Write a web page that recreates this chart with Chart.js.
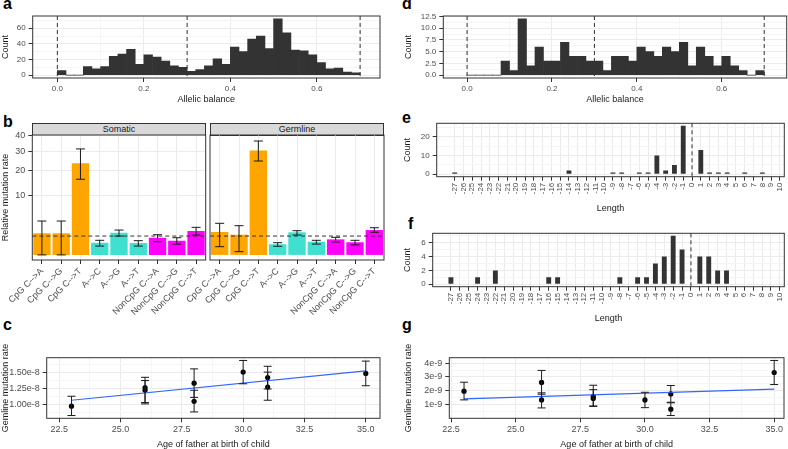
<!DOCTYPE html>
<html>
<head>
<meta charset="utf-8">
<script src="https://cdn.jsdelivr.net/npm/chart.js@4.4.1/dist/chart.umd.min.js"></script>
<style>
  body { margin: 0; width: 788px; height: 449px; position: relative; overflow: hidden; background: #fff;
         font-family: "Liberation Sans", Arial, Helvetica, sans-serif; }
  canvas { position: absolute; }
  .tag { position: absolute; font-weight: bold; font-size: 16px; line-height: 16px; color: #000; }
  .strip { position: absolute; height: 13px; width: 174px; background: #d9d9d9; border: 1px solid #333;
           box-sizing: border-box; font-size: 9px; line-height: 11px; text-align: center; color: #1a1a1a; }
</style>
</head>
<body>
<div class="tag" style="left:3px;top:-4px">a</div>
<div class="tag" style="left:3px;top:114px">b</div>
<div class="tag" style="left:3px;top:317px">c</div>
<div class="tag" style="left:402px;top:-4px">d</div>
<div class="tag" style="left:402px;top:110px">e</div>
<div class="tag" style="left:408px;top:216px">f</div>
<div class="tag" style="left:402px;top:317px">g</div>
<div class="strip" style="left:32px;top:123px">Somatic</div>
<div class="strip" style="left:210px;top:123px">Germline</div>

<canvas id="chartA" width="390" height="105" style="left:0;top:0"></canvas>
<canvas id="chartD" width="398" height="105" style="left:390px;top:0"></canvas>
<canvas id="chartB1" width="210" height="197" style="left:0;top:125px"></canvas>
<canvas id="chartB2" width="210" height="197" style="left:180px;top:125px"></canvas>
<canvas id="chartE" width="398" height="100" style="left:390px;top:114px"></canvas>
<canvas id="chartF" width="398" height="100" style="left:390px;top:224px"></canvas>
<canvas id="chartC" width="390" height="120" style="left:0;top:330px"></canvas>
<canvas id="chartG" width="398" height="120" style="left:390px;top:330px"></canvas>

<script>
// allelic balance histograms (bins of 0.02)
const binMids = [0.01, 0.03, 0.05, 0.07, 0.09, 0.11, 0.13, 0.15, 0.17, 0.19, 0.21, 0.23, 0.25, 0.27, 0.29,
                 0.31, 0.33, 0.35, 0.37, 0.39, 0.41, 0.43, 0.45, 0.47, 0.49, 0.51, 0.53, 0.55, 0.57, 0.59,
                 0.61, 0.63, 0.65, 0.67, 0.69];
const somaticCounts = [6, 0, 0, 11, 8, 11, 24, 27, 33, 14, 26, 23, 18, 12, 10, 5, 7, 12, 21, 14,
                       36, 30, 46, 50, 34, 72, 54, 32, 31, 26, 16, 8, 9, 4, 3];
const germlineCounts = [0, 0, 0, 0, 3, 1, 12, 2, 6, 3, 3, 7, 4, 4, 3, 3, 1, 4, 4, 3,
                        6, 5, 4, 6, 5, 7, 2, 6, 4, 2, 4, 2, 1, 0, 1];
const cutoffs = [0, 0.3, 0.7];

// relative mutation rate by type
const mutTypes = ['CpG C-->A', 'CpG C-->G', 'CpG C-->T', 'A-->C', 'A-->G', 'A-->T',
                  'NonCpG C-->A', 'NonCpG C-->G', 'NonCpG C-->T'];
const typeColors = ['#FFA500', '#FFA500', '#FFA500', '#40E0D0', '#40E0D0', '#40E0D0', '#FF00FF', '#FF00FF', '#FF00FF'];
const somaticRate = [1.31, 1.31, 23.6, 0.42, 1.39, 0.40, 0.83, 0.57, 1.61];
const somaticLow  = [0, 0, 16.1, 0.22, 1.0, 0.22, 0.49, 0.33, 1.11];
const somaticHigh = [3.23, 3.23, 31.6, 0.60, 1.74, 0.57, 1.15, 0.83, 2.14];
const germRate = [1.48, 1.15, 30.6, 0.32, 1.44, 0.49, 0.68, 0.45, 1.74];
const germLow  = [0.19, 0.03, 24.8, 0.21, 1.11, 0.33, 0.47, 0.28, 1.44];
const germHigh = [2.81, 2.40, 36.5, 0.42, 1.65, 0.60, 0.87, 0.60, 2.08];
const rateTicks = [10, 20, 30, 40];

// indel lengths
const lengths = [-27, -26, -25, -24, -23, -22, -21, -20, -19, -18, -17, -16, -15, -14, -13, -12, -11, -10, -9,
                 -8, -7, -6, -5, -4, -3, -2, -1, 0, 1, 2, 3, 4, 5, 6, 7, 8, 9, 10];
const somaticIndels  = [1, 0, 0, 0, 0, 0, 0, 0, 0, 0, 0, 0, 0, 2, 0, 0, 0, 0, 1,
                        1, 0, 1, 1, 10, 2, 5, 26, 0, 13, 1, 1, 1, 0, 1, 0, 1, 0, 0];
const germlineIndels = [1, 0, 0, 1, 0, 2, 0, 0, 0, 0, 0, 1, 1, 0, 0, 0, 0, 0, 0,
                        1, 0, 1, 1, 3, 4, 7, 5, 0, 4, 4, 2, 2, 0, 0, 0, 0, 0, 0];

// rate vs paternal age
const cAge  = [23, 26, 26, 28, 28, 30, 31, 31, 35];
const cRate = [0.974e-8, 1.26e-8, 1.22e-8, 1.33e-8, 1.05e-8, 1.50e-8, 1.417e-8, 1.27e-8, 1.48e-8];
const cLow  = [0.83e-8, 1.03e-8, 1.01e-8, 1.11e-8, 0.886e-8, 1.32e-8, 1.24e-8, 1.066e-8, 1.29e-8];
const cHigh = [1.128e-8, 1.42e-8, 1.37e-8, 1.55e-8, 1.22e-8, 1.68e-8, 1.59e-8, 1.50e-8, 1.67e-8];
const cFitAge  = [23, 35];
const cFitRate = [1.066e-8, 1.52e-8];

const gAge  = [23, 26, 26, 28, 28, 30, 31, 31, 35];
const gRate = [1.97e-9, 2.6e-9, 1.34e-9, 1.6e-9, 1.45e-9, 1.34e-9, 1.77e-9, 0.67e-9, 3.32e-9];
const gLow  = [1.34e-9, 1.75e-9, 0.76e-9, 0.9e-9, 0.87e-9, 0.78e-9, 1.17e-9, 0.21e-9, 2.45e-9];
const gHigh = [2.62e-9, 3.47e-9, 1.85e-9, 2.4e-9, 2.08e-9, 1.89e-9, 2.38e-9, 1.13e-9, 4.19e-9];
const gFitAge  = [23, 35];
const gFitRate = [1.42e-9, 2.12e-9];

Chart.defaults.font.family = '"Liberation Sans", Arial, Helvetica, sans-serif';
Chart.defaults.font.size = 8;
Chart.defaults.color = '#4d4d4d';
Chart.defaults.animation = false;
Chart.defaults.plugins.legend.display = false;
Chart.defaults.plugins.tooltip.enabled = false;

const INK = '#333333', BAR = '#333333', FIT = '#3366FF';

// panel border
const frame = {
  id: 'frame',
  afterDraw(chart) {
    const { ctx, chartArea: a } = chart;
    ctx.save();
    ctx.strokeStyle = INK;
    ctx.lineWidth = 1;
    ctx.strokeRect(a.left, a.top, a.right - a.left, a.bottom - a.top);
    ctx.restore();
  }
};

// dashed reference lines
const refLines = {
  id: 'refLines',
  afterDatasetsDraw(chart, args, o) {
    const { ctx, chartArea: a, scales } = chart;
    ctx.save();
    ctx.strokeStyle = INK;
    ctx.lineWidth = 1;
    ctx.setLineDash([4, 3]);
    (o.x || []).forEach(v => {
      const p = scales.x.getPixelForValue(v);
      ctx.beginPath(); ctx.moveTo(p, a.top); ctx.lineTo(p, a.bottom); ctx.stroke();
    });
    (o.y || []).forEach(v => {
      const p = scales.y.getPixelForValue(v);
      ctx.beginPath(); ctx.moveTo(a.left, p); ctx.lineTo(a.right, p); ctx.stroke();
    });
    ctx.restore();
  }
};

// error bars
const errBars = {
  id: 'errBars',
  afterDatasetsDraw(chart, args, o) {
    if (!o.xs) return;
    const { ctx, scales: { x, y } } = chart;
    const tf = v => o.sqrt ? Math.sqrt(v) : v;
    ctx.save();
    ctx.strokeStyle = '#1a1a1a';
    ctx.lineWidth = 1;
    o.xs.forEach((xv, i) => {
      const px = x.getPixelForValue(xv);
      const y1 = y.getPixelForValue(tf(o.lo[i]));
      const y2 = y.getPixelForValue(tf(o.hi[i]));
      ctx.beginPath();
      ctx.moveTo(px, y1); ctx.lineTo(px, y2);
      ctx.moveTo(px - o.cap, y1); ctx.lineTo(px + o.cap, y1);
      ctx.moveTo(px - o.cap, y2); ctx.lineTo(px + o.cap, y2);
      ctx.stroke();
    });
    ctx.restore();
  }
};

function mk(major, minor) {
  return major.map(v => ({ value: v })).concat((minor || []).map(v => ({ value: v, minor: true })))
    .sort((a, b) => a.value - b.value);
}

function gridStyle() {
  return {
    color: c => (c.tick && c.tick.minor) ? '#f5f5f5' : '#ebebeb',
    tickColor: c => (c.tick && c.tick.minor) ? 'rgba(0,0,0,0)' : INK,
    tickLength: 4,
    offset: false
  };
}

function tickOpts(o, pad) {
  const t = { font: { size: o.size || 8 }, color: '#4d4d4d', padding: pad, autoSkip: false,
              maxRotation: o.rot || 0, minRotation: o.rot || 0 };
  if (o.fmt) t.callback = (v, i, ticks) => ticks[i].minor ? '' : o.fmt(v);
  return t;
}

function titleOpts(text) {
  return { display: !!text, text: text || '', font: { size: 9 }, color: '#1a1a1a', padding: 0 };
}

function xAxis(o) {
  const s = {
    type: o.type || 'linear',
    offset: o.type === 'category',
    afterFit: sc => { sc.height = o.height; sc.paddingLeft = 0; sc.paddingRight = 0; },
    grid: gridStyle(),
    border: { display: false },
    ticks: tickOpts(o, 2),
    title: titleOpts(o.title)
  };
  if (o.min !== undefined) { s.min = o.min; s.max = o.max; }
  if (o.ticks) s.afterBuildTicks = sc => { sc.ticks = o.ticks; };
  return s;
}

function yAxis(o) {
  const shown = o.display !== false;
  return {
    display: shown,
    min: o.min, max: o.max,
    afterBuildTicks: sc => { sc.ticks = o.ticks; },
    afterFit: sc => { sc.width = shown ? o.width : 0; sc.paddingTop = 0; sc.paddingBottom = 0; },
    grid: gridStyle(),
    border: { display: false },
    ticks: tickOpts(o, 3),
    title: titleOpts(o.title)
  };
}

function histChart(id, counts, pad, yW, yOpts) {
  return new Chart(document.getElementById(id), {
    type: 'bar',
    data: { datasets: [{ data: binMids.map((m, i) => ({ x: m, y: counts[i] })),
                         backgroundColor: BAR, barPercentage: 1, categoryPercentage: 1 }] },
    options: {
      responsive: false,
      layout: { padding: pad },
      scales: {
        x: xAxis({ min: yOpts.xmin, max: yOpts.xmax, ticks: mk([0, 0.2, 0.4, 0.6], [0.1, 0.3, 0.5, 0.7]),
                   fmt: v => v.toFixed(1), height: 27, title: 'Allelic balance' }),
        y: yAxis({ min: yOpts.min, max: yOpts.max, ticks: yOpts.ticks, fmt: yOpts.fmt, width: yW, title: 'Count' })
      },
      plugins: { refLines: { x: cutoffs } }
    },
    plugins: [refLines, frame]
  });
}

histChart('chartA', somaticCounts, { left: 0, top: 16, right: 10, bottom: 0 }, 32.7,
  { xmin: -0.057, xmax: 0.746, min: -3.6, max: 75.6, ticks: mk([0, 20, 40, 60], [10, 30, 50, 70]), fmt: v => String(v) });
histChart('chartD', germlineCounts, { left: 13.6, top: 16, right: 1.3, bottom: 0 }, 39.7,
  { xmin: -0.056, xmax: 0.753, min: -0.6, max: 12.6,
    ticks: mk([0, 2.5, 5, 7.5, 10, 12.5], [1.25, 3.75, 6.25, 8.75, 11.25]), fmt: v => v.toFixed(1) });

function mutChart(id, rate, lo, hi, showY, pad) {
  return new Chart(document.getElementById(id), {
    type: 'bar',
    data: {
      labels: mutTypes,
      datasets: [{ data: rate.map(v => Math.sqrt(v)), backgroundColor: typeColors,
                   barPercentage: 0.9, categoryPercentage: 1 }]
    },
    options: {
      responsive: false,
      layout: { padding: pad },
      scales: {
        x: xAxis({ type: 'category', height: 62, rot: 45, size: 9 }),
        y: yAxis({ display: showY, min: -0.27, max: 6.36, ticks: rateTicks.map(v => ({ value: Math.sqrt(v) })),
                   fmt: v => String(Math.round(v * v)), width: 32.3, size: 9,
                   title: 'Relative mutation rate' })
      },
      plugins: {
        refLines: { y: [1] },
        errBars: { xs: mutTypes.map((t, i) => i), lo: lo, hi: hi, cap: 4.5, sqrt: true }
      }
    },
    plugins: [refLines, errBars, frame]
  });
}

mutChart('chartB1', somaticRate, somaticLow, somaticHigh, true, { left: 0, top: 10, right: 4.3, bottom: 0 });
mutChart('chartB2', germRate, germLow, germHigh, false, { left: 30, top: 10, right: 6, bottom: 0 });

function indelChart(id, counts, pad, yW, yOpts) {
  return new Chart(document.getElementById(id), {
    type: 'bar',
    data: { datasets: [{ data: lengths.map((l, i) => ({ x: l, y: counts[i] })),
                         backgroundColor: BAR, barPercentage: 0.55, categoryPercentage: 1 }] },
    options: {
      responsive: false,
      layout: { padding: pad },
      scales: {
        x: xAxis({ min: -29.05, max: 10.5, ticks: mk(lengths), fmt: v => String(v),
                   height: 37.3, rot: 90, title: 'Length' }),
        y: yAxis({ min: yOpts.min, max: yOpts.max, ticks: yOpts.ticks, fmt: v => String(v), width: yW, title: 'Count' })
      },
      plugins: { refLines: { x: [0] } }
    },
    plugins: [refLines, frame]
  });
}

indelChart('chartE', somaticIndels, { left: 12.6, top: 9.3, right: 3.7, bottom: 0 }, 34.1,
  { min: -1.3, max: 27.3, ticks: mk([0, 10, 20], [5, 15, 25]) });
indelChart('chartF', germlineIndels, { left: 12.6, top: 9.3, right: 3.7, bottom: 0 }, 30.1,
  { min: -0.35, max: 7.35, ticks: mk([0, 2, 4, 6], [1, 3, 5, 7]) });

function ageChart(id, age, rate, lo, hi, fitAge, fitRate, pad, yW, o) {
  return new Chart(document.getElementById(id), {
    type: 'scatter',
    data: {
      datasets: [
        { type: 'line', data: fitAge.map((a, i) => ({ x: a, y: fitRate[i] })), borderColor: FIT,
          borderWidth: 1.2, pointRadius: 0, fill: false },
        { data: age.map((a, i) => ({ x: a, y: rate[i] })), pointRadius: 2.6,
          backgroundColor: '#000', borderWidth: 0 }
      ]
    },
    options: {
      responsive: false,
      layout: { padding: pad },
      scales: {
        x: xAxis({ min: o.xmin, max: o.xmax, ticks: mk([22.5, 25, 27.5, 30, 32.5, 35], [23.75, 26.25, 28.75, 31.25, 33.75]),
                   fmt: v => v.toFixed(1), height: 31.7, size: 9, title: 'Age of father at birth of child' }),
        y: yAxis({ min: o.min, max: o.max, ticks: o.ticks, fmt: o.fmt, width: yW, size: 9,
                   title: 'Gemline mutation rate' })
      },
      plugins: { errBars: { xs: age, lo: lo, hi: hi, cap: 4 } }
    },
    plugins: [errBars, frame]
  });
}

ageChart('chartC', cAge, cRate, cLow, cHigh, cFitAge, cFitRate, { left: 0, top: 27.7, right: 10, bottom: 0 }, 46.7,
  { xmin: 21.99, xmax: 35.58, min: 0.7875e-8, max: 1.7225e-8,
    ticks: mk([1.0e-8, 1.25e-8, 1.5e-8], [0.875e-8, 1.125e-8, 1.375e-8, 1.625e-8]),
    fmt: v => (v * 1e8).toFixed(2) + 'e-8' });
ageChart('chartG', gAge, gRate, gLow, gHigh, gFitAge, gFitRate, { left: 13.6, top: 27.7, right: 1.3, bottom: 0 }, 45.7,
  { xmin: 22.43, xmax: 35.38, min: 0.01e-9, max: 4.39e-9,
    ticks: mk([1e-9, 2e-9, 3e-9, 4e-9], [0.5e-9, 1.5e-9, 2.5e-9, 3.5e-9]),
    fmt: v => Math.round(v * 1e9) + 'e-9' });
</script>
</body>
</html>
